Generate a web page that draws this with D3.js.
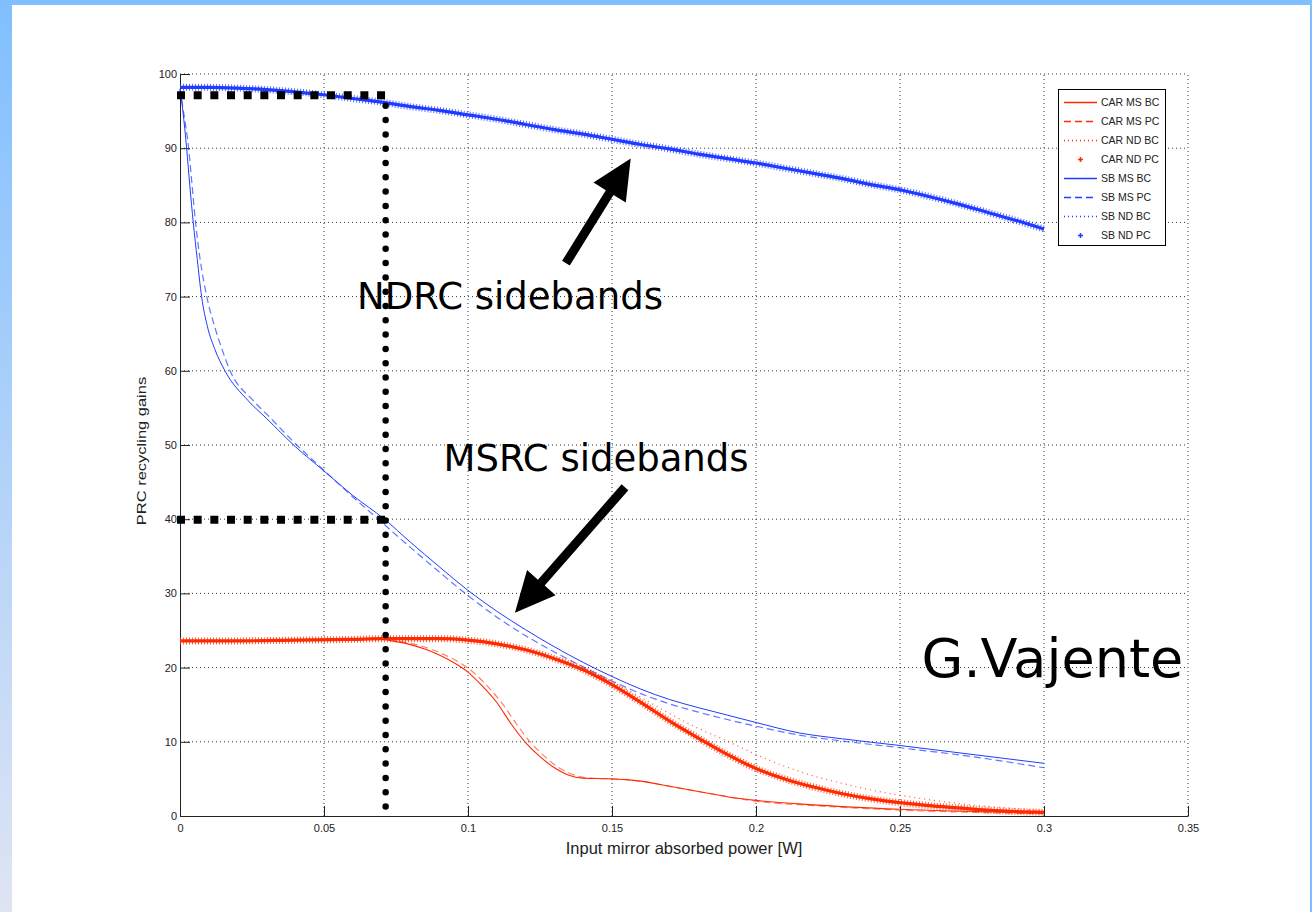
<!DOCTYPE html>
<html>
<head>
<meta charset="utf-8">
<script src="https://cdn.jsdelivr.net/npm/d3@7"></script>
<style>
  body { margin: 0; background: #fff; }
  svg { display: block; }
</style>
</head>
<body>
<svg id="chart" width="1312" height="912"></svg>
<script>
var width = 1312;
var height = 912;

// axis ticks
var xTicks = [0, 0.05, 0.1, 0.15, 0.2, 0.25, 0.3, 0.35];
var yTicks = [0, 10, 20, 30, 40, 50, 60, 70, 80, 90, 100];

// series, [power W, gain]
var carMsBc = [[0,23.6],[0.02,23.6],[0.04,23.7],[0.06,23.8],[0.07,23.8],[0.075,23.5],[0.08,23.1],[0.085,22.5],[0.09,21.7],[0.095,20.7],[0.1,19.4],[0.105,17.5],[0.11,15.3],[0.115,12.4],[0.12,9.9],[0.125,8.0],[0.13,6.5],[0.135,5.5],[0.14,5.1],[0.15,5.0],[0.155,4.9],[0.16,4.7],[0.17,4.0],[0.18,3.3],[0.19,2.6],[0.2,2.1],[0.22,1.5],[0.25,0.9],[0.3,0.4]];
var carMsPc = [[0,23.6],[0.02,23.6],[0.04,23.7],[0.06,23.8],[0.072,23.8],[0.077,23.5],[0.082,23.1],[0.087,22.5],[0.092,21.7],[0.097,20.7],[0.102,19.3],[0.107,17.4],[0.112,15.1],[0.117,12.3],[0.122,9.8],[0.127,7.9],[0.132,6.4],[0.137,5.5],[0.142,5.1],[0.15,5.0],[0.155,4.9],[0.16,4.7],[0.17,4.0],[0.18,3.3],[0.19,2.6],[0.2,2.0],[0.22,1.4],[0.25,0.8],[0.3,0.3]];
var carNdBc = [[0,23.6],[0.02,23.6],[0.04,23.7],[0.06,23.8],[0.08,23.9],[0.1,23.8],[0.11,23.3],[0.12,22.5],[0.13,21.4],[0.14,19.9],[0.15,18.1],[0.16,16.0],[0.17,13.8],[0.18,11.8],[0.19,10.1],[0.2,8.3],[0.21,6.7],[0.22,5.4],[0.23,4.4],[0.24,3.5],[0.25,2.8],[0.26,2.2],[0.27,1.7],[0.28,1.3],[0.29,1.0],[0.3,0.7]];
var carNdPc = [[0,23.6],[0.02,23.6],[0.04,23.7],[0.06,23.8],[0.07,23.9],[0.08,23.9],[0.09,23.9],[0.1,23.7],[0.11,23.2],[0.12,22.4],[0.13,21.2],[0.14,19.7],[0.15,17.7],[0.16,15.3],[0.17,12.8],[0.18,10.5],[0.19,8.3],[0.2,6.4],[0.21,5.0],[0.22,3.9],[0.23,3.0],[0.24,2.3],[0.25,1.8],[0.26,1.4],[0.27,1.1],[0.28,0.8],[0.29,0.6],[0.3,0.5]];
var sbMsBc = [[0,98],[0.001,95],[0.0023,90],[0.0034,85],[0.0046,80],[0.006,75],[0.0075,70],[0.0095,66],[0.012,63],[0.0156,60],[0.0236,56],[0.03,53.6],[0.04,49.8],[0.05,46.5],[0.06,43.2],[0.071,40],[0.08,36.9],[0.09,33.6],[0.1,30.4],[0.11,27.6],[0.12,25.1],[0.13,22.8],[0.14,20.7],[0.15,18.8],[0.16,17.1],[0.17,15.7],[0.18,14.6],[0.19,13.6],[0.2,12.6],[0.215,11.2],[0.23,10.4],[0.25,9.5],[0.275,8.3],[0.3,7.1]];
var sbMsPc = [[0,98],[0.0012,95],[0.003,90],[0.0042,85],[0.0054,80],[0.007,75],[0.0093,70],[0.012,66],[0.0145,63],[0.0174,60],[0.0254,56],[0.031,53.8],[0.04,50.2],[0.05,46.6],[0.06,43],[0.07,39.6],[0.08,36.2],[0.09,32.9],[0.1,29.7],[0.11,26.8],[0.12,24.3],[0.13,22.1],[0.14,20.1],[0.15,18.2],[0.16,16.5],[0.17,15.1],[0.18,14.0],[0.19,13.0],[0.2,12.1],[0.215,10.9],[0.23,10.1],[0.25,9.2],[0.275,8.0],[0.3,6.5]];
var sbNdBc = [[0,98.1],[0.01,98.1],[0.02,98.0],[0.03,97.8],[0.04,97.5],[0.05,97.1],[0.06,96.6],[0.07,96.1],[0.08,95.6],[0.09,95.0],[0.1,94.4],[0.12,93.1],[0.14,91.8],[0.16,90.4],[0.18,89.1],[0.2,87.9],[0.22,86.5],[0.24,85.0],[0.26,83.4],[0.28,81.3],[0.3,79.0]];
var sbNdPc = [[0,98.2],[0.01,98.2],[0.02,98.1],[0.03,97.9],[0.04,97.6],[0.05,97.2],[0.06,96.7],[0.07,96.2],[0.08,95.6],[0.09,95.1],[0.1,94.5],[0.11,93.9],[0.12,93.2],[0.13,92.5],[0.14,91.9],[0.15,91.2],[0.16,90.5],[0.17,89.9],[0.18,89.2],[0.19,88.6],[0.2,88.0],[0.21,87.3],[0.22,86.6],[0.23,85.9],[0.24,85.1],[0.25,84.4],[0.26,83.5],[0.27,82.5],[0.28,81.4],[0.29,80.3],[0.3,79.1]];

var legendNames = ["CAR MS BC", "CAR MS PC", "CAR ND BC", "CAR ND PC", "SB MS BC", "SB MS PC", "SB ND BC", "SB ND PC"];

// annotations drawn on the slide, in data units
var markPower = 0.0714;
var markGains = [97.2, 40];
var arrows = [
  { from: [0.134, 74.5], to: [0.1565, 88.6] },
  { from: [0.1545, 44.3], to: [0.1163, 27.4] }
];
var notes = [
  { text: "NDRC sidebands", x: 0.0615, y: 68.3, size: 37 },
  { text: "MSRC sidebands", x: 0.0915, y: 46.5, size: 37 },
  { text: "G.Vajente", x: 0.2575, y: 18.7, size: 54 }
];

var red = "#ff2b00";
var blue = "#1f3cff";

var svg = d3.select("#chart");

// slide frame
var defs = svg.append("defs");
var grad = defs.append("linearGradient")
  .attr("id", "sideGrad")
  .attr("x1", 0).attr("y1", 0).attr("x2", 0).attr("y2", 1);
grad.append("stop").attr("offset", "0%").attr("stop-color", "#80bfff");
grad.append("stop").attr("offset", "100%").attr("stop-color", "#dfe4f3");

svg.append("rect").attr("x", 0).attr("y", 0).attr("width", 12).attr("height", height).attr("fill", "url(#sideGrad)");
svg.append("rect").attr("x", 0).attr("y", 0).attr("width", width).attr("height", 5).attr("fill", "#80bfff");
svg.append("rect").attr("x", 1310).attr("y", 0).attr("width", 2).attr("height", height).attr("fill", "#80bfff");

var x = d3.scaleLinear().domain([0, 0.35]).range([180, 1188]);
var y = d3.scaleLinear().domain([0, 100]).range([816, 74]);

// grid
var grid = svg.append("g");
grid.selectAll(".gx")
  .data(xTicks.slice(1))
  .enter().append("line")
  .attr("x1", function(d) { return x(d); })
  .attr("x2", function(d) { return x(d); })
  .attr("y1", y(0))
  .attr("y2", y(100))
  .attr("stroke", "#333")
  .attr("stroke-width", 1)
  .attr("stroke-dasharray", "1,3");
grid.selectAll(".gy")
  .data(yTicks.slice(1))
  .enter().append("line")
  .attr("x1", x(0))
  .attr("x2", x(0.35))
  .attr("y1", function(d) { return y(d); })
  .attr("y2", function(d) { return y(d); })
  .attr("stroke", "#333")
  .attr("stroke-width", 1)
  .attr("stroke-dasharray", "1,3");

// axes
var xAxis = svg.append("g")
  .attr("transform", "translate(0," + y(0) + ")")
  .call(d3.axisBottom(x).tickValues(xTicks).tickFormat(function(d) { return String(d); })
    .tickSize(-10).tickSizeOuter(0).tickPadding(8));
var yAxis = svg.append("g")
  .attr("transform", "translate(" + x(0) + ",0)")
  .call(d3.axisLeft(y).tickValues(yTicks).tickFormat(function(d) { return String(d); })
    .tickSize(-10).tickSizeOuter(0).tickPadding(3));
[xAxis, yAxis].forEach(function(a) {
  a.select(".domain").attr("stroke", "#222");
  a.selectAll(".tick line").attr("stroke", "#222");
  a.selectAll(".tick text")
    .attr("fill", "#222")
    .style("font-family", "'Liberation Sans', Arial, sans-serif")
    .style("font-size", "11px");
});

svg.append("text")
  .attr("x", (x(0) + x(0.35)) / 2)
  .attr("y", 854)
  .attr("text-anchor", "middle")
  .attr("fill", "#222")
  .style("font-family", "'Liberation Sans', Arial, sans-serif")
  .style("font-size", "16.5px")
  .text("Input mirror absorbed power [W]");

svg.append("text")
  .attr("transform", "translate(146,451) rotate(-90) scale(1,0.72)")
  .attr("text-anchor", "middle")
  .attr("fill", "#222")
  .style("font-family", "'Liberation Sans', Arial, sans-serif")
  .style("font-size", "16.5px")
  .text("PRC recycling gains");

// curves
var line = d3.line()
  .x(function(d) { return x(d[0]); })
  .y(function(d) { return y(d[1]); })
  .curve(d3.curveMonotoneX);

var plot = svg.append("g");

function drawThick(data, color) {
  plot.append("path")
    .attr("d", line(data))
    .attr("fill", "none")
    .attr("stroke", color)
    .attr("stroke-width", 3.2);
  plot.append("path")
    .attr("d", line(data))
    .attr("fill", "none")
    .attr("stroke", color)
    .attr("stroke-opacity", 0.75)
    .attr("stroke-width", 7)
    .attr("stroke-dasharray", "1,2");
}

plot.append("path").attr("d", line(sbNdBc)).attr("fill", "none")
  .attr("stroke", blue).attr("stroke-width", 1).attr("stroke-dasharray", "1,3");
drawThick(sbNdPc, blue);
plot.append("path").attr("d", line(sbMsPc)).attr("fill", "none")
  .attr("stroke", blue).attr("stroke-opacity", 0.7).attr("stroke-width", 1.2).attr("stroke-dasharray", "7,4");
plot.append("path").attr("d", line(sbMsBc)).attr("fill", "none")
  .attr("stroke", blue).attr("stroke-width", 1);

plot.append("path").attr("d", line(carNdBc)).attr("fill", "none")
  .attr("stroke", red).attr("stroke-opacity", 0.8).attr("stroke-width", 1.2).attr("stroke-dasharray", "1,4");
plot.append("path").attr("d", line(carMsPc)).attr("fill", "none")
  .attr("stroke", red).attr("stroke-opacity", 0.6).attr("stroke-width", 1.2).attr("stroke-dasharray", "7,4");
plot.append("path").attr("d", line(carMsBc)).attr("fill", "none")
  .attr("stroke", red).attr("stroke-width", 1.1);
drawThick(carNdPc, red);

// black annotation marks
var ann = svg.append("g");
ann.selectAll(".hmark")
  .data(markGains)
  .enter().append("line")
  .attr("x1", x(0) - 3)
  .attr("x2", x(markPower) + 1)
  .attr("y1", function(d) { return y(d) + 0.5; })
  .attr("y2", function(d) { return y(d) + 0.5; })
  .attr("stroke", "#000")
  .attr("stroke-width", 8)
  .attr("stroke-dasharray", "8,8.67");
ann.append("line")
  .attr("x1", x(markPower))
  .attr("x2", x(markPower))
  .attr("y1", y(markGains[0]) + 11)
  .attr("y2", y(0) - 5)
  .attr("stroke", "#000")
  .attr("stroke-width", 6.5)
  .attr("stroke-linecap", "round")
  .attr("stroke-dasharray", "0,14.3");

arrows.forEach(function(a) {
  var x0 = x(a.from[0]), y0 = y(a.from[1]);
  var x1 = x(a.to[0]), y1 = y(a.to[1]);
  var dx = x1 - x0, dy = y1 - y0;
  var len = Math.sqrt(dx * dx + dy * dy);
  var ux = dx / len, uy = dy / len;
  var px = -uy, py = ux;
  var headLen = 40, headW = 19, shaftW = 4.5;
  var bx = x1 - ux * headLen, by = y1 - uy * headLen;
  var pts = [
    [x0 + px * shaftW, y0 + py * shaftW],
    [bx + px * shaftW, by + py * shaftW],
    [bx + px * headW, by + py * headW],
    [x1, y1],
    [bx - px * headW, by - py * headW],
    [bx - px * shaftW, by - py * shaftW],
    [x0 - px * shaftW, y0 - py * shaftW]
  ];
  ann.append("polygon")
    .attr("points", pts.map(function(p) { return p.join(","); }).join(" "))
    .attr("fill", "#000");
});

ann.selectAll(".note")
  .data(notes)
  .enter().append("text")
  .attr("x", function(d) { return x(d.x); })
  .attr("y", function(d) { return y(d.y); })
  .attr("fill", "#000")
  .style("font-family", "'DejaVu Sans', Verdana, sans-serif")
  .style("font-size", function(d) { return d.size + "px"; })
  .text(function(d) { return d.text; });

// legend
var legend = svg.append("g");
legend.append("rect")
  .attr("x", 1058.5).attr("y", 89.5)
  .attr("width", 107).attr("height", 156)
  .attr("fill", "#fff")
  .attr("stroke", "#000")
  .attr("stroke-width", 1);

var legendStyles = [
  { color: red, dash: "none", marker: false },
  { color: red, dash: "7,4", marker: false },
  { color: red, dash: "1,3", marker: false },
  { color: red, dash: "none", marker: true },
  { color: blue, dash: "none", marker: false },
  { color: blue, dash: "7,4", marker: false },
  { color: blue, dash: "1,3", marker: false },
  { color: blue, dash: "none", marker: true }
];

var rows = legend.selectAll(".row")
  .data(legendNames)
  .enter().append("g")
  .attr("transform", function(d, i) { return "translate(0," + (102.5 + i * 19) + ")"; });

rows.each(function(d, i) {
  var g = d3.select(this);
  var s = legendStyles[i];
  if (s.marker) {
    g.append("path")
      .attr("d", "M1078,0H1083M1080.5,-2.5V2.5")
      .style("stroke", s.color)
      .style("stroke-width", 1.6);
  } else {
    g.append("path")
      .attr("d", "M1064,0H1097")
      .style("fill", "none")
      .style("stroke", s.color)
      .style("stroke-width", 1.3)
      .style("stroke-dasharray", s.dash);
  }
  g.append("text")
    .attr("x", 1101)
    .attr("y", 0)
    .attr("dy", "0.35em")
    .attr("fill", "#222")
    .style("font-family", "'Liberation Sans', Arial, sans-serif")
    .style("font-size", "10.5px")
    .text(d);
});
</script>
</body>
</html>
